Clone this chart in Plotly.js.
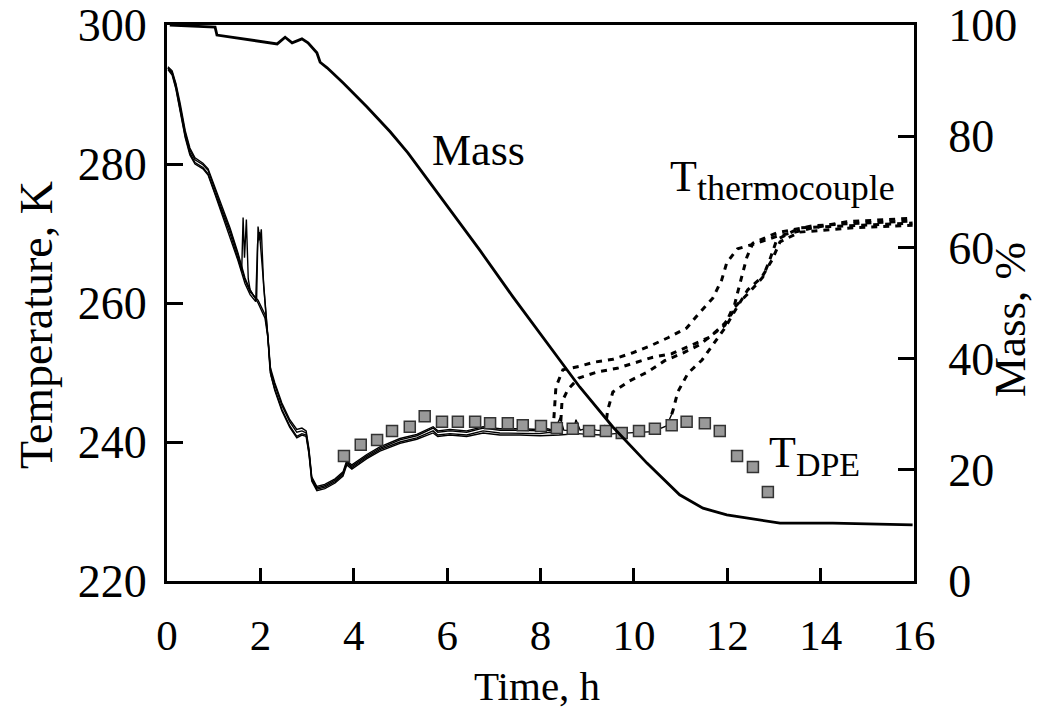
<!DOCTYPE html>
<html>
<head>
<meta charset="utf-8">
<script src="https://cdn.plot.ly/plotly-3.0.1.min.js"></script>
<style>html,body{margin:0;padding:0;background:#fff;}#chart{width:1037px;height:712px;}</style>
</head>
<body>
<div id="chart"></div>
<script>
// ---- Mass (%), right axis ----
var massTime = [0.06,1.03,1.07,2.36,2.53,2.68,2.89,3.02,3.21,3.28,3.43,3.77,4.28,4.78,5.16,6.70,7.41,8.14,8.84,9.55,10.28,10.98,11.48,11.99,12.48,13.13,14.26,15.97];
var massValue = [100,99.6,98.2,96.6,97.8,96.8,97.5,96.8,95.0,93.3,92.3,89.6,85.3,80.8,77.0,59.5,51.1,42.8,34.9,27.7,21.2,15.5,13.1,11.9,11.3,10.4,10.4,10.1];

// ---- Run A (solid, then thermocouple dashed) ----
var runATime = [0.02,0.11,0.19,0.28,0.39,0.49,0.60,0.77,0.88,1.03,1.18,1.35,1.52,1.67,1.78,1.95,2.10,2.16,2.21,2.31,2.46,2.63,2.78,2.89,2.98,3.04,3.10,3.21,3.38,3.60,3.77,3.85,3.96,4.28,4.56,4.99,5.35,5.70,5.80,6.06,6.42,6.77,7.13,7.56,7.99,8.15,8.27];
var runATemp = [293.8,293.2,291.4,288.5,284.5,282.0,280.6,279.9,279.1,276.3,273.4,270.5,266.9,263.3,261.6,260.4,258.3,255.4,250.4,248.2,245.3,242.9,241.4,241.6,241.3,238.8,234.8,233.4,233.7,234.5,235.5,237.1,236.5,238.0,239.1,240.3,240.9,242.0,241.4,241.6,241.4,242.0,241.7,241.7,241.6,241.9,241.7];
var runATcTime = [8.27,8.33,8.48,8.84,9.16,9.55,9.96,10.34,10.73,11.13,11.37,11.69,11.88,11.99,12.22,12.63,13.06,13.83,14.56,15.27,15.97];
var runATcTemp = [241.7,247.9,250.4,250.9,251.5,251.9,252.8,253.8,255.0,256.4,258.3,260.7,263.3,265.8,267.8,268.6,269.6,270.8,271.7,271.9,272.2];

// ---- Run B ----
var runBTime = [0.02,0.11,0.19,0.28,0.39,0.49,0.60,0.77,0.88,1.03,1.18,1.35,1.52,1.60,1.63,1.66,1.70,1.74,1.78,1.95,2.10,2.16,2.21,2.31,2.46,2.63,2.78,2.89,2.98,3.04,3.10,3.21,3.38,3.60,3.77,3.85,3.96,4.28,4.56,4.99,5.35,5.70,5.80,6.06,6.42,6.77,7.13,7.56,7.99,8.20,8.42];
var runBTemp = [293.8,293.0,291.0,288.0,284.0,281.6,280.2,279.5,278.6,275.8,273.0,270.0,266.4,264.6,272.3,266.5,272.0,263.5,261.9,260.0,257.8,255.0,250.0,247.6,244.7,242.3,240.8,241.2,241.0,238.5,234.6,233.2,233.5,234.3,235.3,236.9,236.3,237.8,238.9,240.0,240.6,241.6,241.0,241.2,241.0,241.6,241.3,241.3,241.2,241.4,241.3];
var runBTcTime = [8.42,8.46,8.59,8.82,9.23,9.64,10.02,10.41,10.81,11.24,11.63,11.95,12.12,12.21,12.31,12.42,12.55,13.06,13.83,14.56,15.97];
var runBTcTemp = [241.3,245.8,247.6,249.2,250.1,250.6,251.4,252.2,252.7,254.0,255.1,257.1,258.7,261.2,263.7,266.6,268.6,270.1,271.1,271.4,271.8];

// ---- Run C ----
var runCTime = [0.02,0.11,0.19,0.28,0.39,0.49,0.60,0.77,0.88,1.03,1.18,1.35,1.52,1.67,1.78,1.86,1.92,1.95,1.99,2.02,2.07,2.12,2.16,2.21,2.31,2.46,2.63,2.78,2.89,2.98,3.04,3.10,3.21,3.38,3.60,3.77,3.85,3.96,4.28,4.56,4.99,5.35,5.70,5.80,6.06,6.42,6.77,7.13,7.56,7.99,8.30,8.42,8.50,8.70,8.76,8.85,9.00,9.20,9.38];
var runCTemp = [294.0,293.4,291.6,288.8,284.8,282.3,280.9,280.1,279.3,276.6,273.7,270.8,267.2,263.6,261.9,261.0,260.6,271.0,269.0,270.6,262.5,258.6,255.8,250.8,248.5,245.6,243.2,241.8,242.0,241.6,239.0,235.0,233.6,233.9,234.7,235.7,237.3,236.7,238.2,239.3,240.5,241.1,242.2,241.6,241.8,241.6,242.2,241.9,241.9,241.8,241.6,243.5,241.7,241.6,243.2,241.7,242.0,241.7,241.6];
var runCTcTime = [9.38,9.44,9.55,9.91,10.30,10.66,11.05,11.41,11.67,11.95,12.10,12.48,12.76,12.91,13.06,13.55,14.56,15.97];
var runCTcTemp = [241.6,244.6,247.2,248.8,250.1,251.7,252.8,254.0,255.4,256.8,259.0,261.6,263.7,266.2,269.1,270.8,271.1,271.5];

// ---- Run D ----
var runDTime = [0.02,0.11,0.19,0.28,0.39,0.49,0.60,0.77,0.88,1.03,1.18,1.35,1.52,1.67,1.78,1.90,1.94,1.98,2.03,2.08,2.13,2.18,2.23,2.31,2.46,2.63,2.78,2.89,2.98,3.04,3.10,3.21,3.38,3.60,3.77,3.85,3.96,4.28,4.56,4.99,5.35,5.70,5.80,6.06,6.42,6.77,7.13,7.56,7.99,8.40,8.80,9.00,9.30,9.60,10.00,10.40,10.70,10.81];
var runDTemp = [293.6,292.8,290.8,287.8,283.8,281.3,280.0,279.3,278.4,275.6,272.7,269.7,266.1,262.8,261.2,260.2,268.5,270.2,266.0,261.5,257.5,253.0,249.5,247.4,244.5,242.1,240.6,241.0,240.8,238.3,234.4,233.0,233.3,234.1,235.1,236.7,236.1,237.6,238.7,239.8,240.4,241.3,240.8,241.0,240.8,241.3,241.0,241.0,240.9,241.0,241.2,241.1,241.0,241.2,241.3,241.5,242.3,244.0];
var runDTcTime = [10.81,10.84,10.94,11.16,11.46,11.69,11.95,12.21,12.44,12.74,12.96,13.13,13.55,14.63,15.97];
var runDTcTemp = [244.0,244.6,247.2,249.9,251.8,254.0,256.4,259.4,261.9,263.7,266.2,268.8,270.2,270.8,271.2];

// ---- T_DPE squares ----
var dpeTime = [3.79,4.15,4.50,4.82,5.20,5.52,5.89,6.23,6.60,6.92,7.30,7.62,8.01,8.35,8.69,9.04,9.40,9.74,10.11,10.45,10.81,11.13,11.52,11.84,12.21,12.55,12.87];
var dpeTemp = [238.0,239.6,240.3,241.6,242.2,243.7,242.9,242.9,242.9,242.7,242.7,242.4,242.3,242.0,241.9,241.6,241.6,241.3,241.6,241.9,242.4,242.9,242.7,241.6,238.0,236.4,232.8];

var xTicks = [0,2,4,6,8,10,12,14,16];
var tempTicks = [220,240,260,280,300];
var massTicks = [0,20,40,60,80,100];

var FONT = 'Liberation Serif, Times New Roman, serif';
var solid = {color:'#000', width:1.4};
var dashed = {color:'#000', width:3, dash:'6px,6px'};

var traces = [];
[[runATime,runATemp],[runBTime,runBTemp],[runCTime,runCTemp],[runDTime,runDTemp]].forEach(function(r){
  traces.push({x:r[0], y:r[1], type:'scatter', mode:'lines', line:solid, hoverinfo:'skip'});
});
[[runATcTime,runATcTemp],[runBTcTime,runBTcTemp],[runCTcTime,runCTcTemp],[runDTcTime,runDTcTemp]].forEach(function(r){
  traces.push({x:r[0], y:r[1], type:'scatter', mode:'lines', line:dashed, hoverinfo:'skip'});
});
traces.push({x:massTime, y:massValue, yaxis:'y2', type:'scatter', mode:'lines', line:{color:'#000', width:2.8}});
traces.push({x:dpeTime, y:dpeTemp, type:'scatter', mode:'markers', marker:{symbol:'square', size:11, color:'#999999', line:{color:'#333', width:1.5}}});

var layout = {
  width:1037, height:712,
  margin:{l:167, r:123, t:25, b:131},
  paper_bgcolor:'#fff', plot_bgcolor:'#fff',
  showlegend:false,
  font:{family:FONT, size:44, color:'#000'},
  xaxis:{range:[0,16], tickvals:xTicks, ticktext:xTicks.map(String), ticks:'inside', ticklen:13, tickwidth:3, tickcolor:'#000',
         showline:true, linewidth:3, linecolor:'#000', mirror:true, showgrid:false, zeroline:false,
         tickfont:{family:FONT, size:43}, ticklabelstandoff:14},
  yaxis:{range:[220,300], tickvals:tempTicks, ticktext:tempTicks.map(String), ticks:'inside', ticklen:16, tickwidth:3, tickcolor:'#000',
         showline:true, linewidth:3, linecolor:'#000', showgrid:false, zeroline:false,
         tickfont:{family:FONT, size:46}, ticklabelstandoff:8},
  yaxis2:{range:[0,100], overlaying:'y', side:'right', tickvals:massTicks, ticktext:massTicks.map(String), ticks:'inside', ticklen:16, tickwidth:3, tickcolor:'#000',
         showline:true, linewidth:3, linecolor:'#000', showgrid:false, zeroline:false,
         tickfont:{family:FONT, size:46}, ticklabelstandoff:22},
  annotations:[
    {text:'Time, h', xref:'paper', yref:'paper', x:(537-167)/747, y:(581-686)/556, xanchor:'center', yanchor:'middle', showarrow:false, font:{family:FONT, size:41}},
    {text:'Temperature, K', xref:'paper', yref:'paper', x:(36-167)/747, y:(581-325)/556, xanchor:'center', yanchor:'middle', textangle:-90, showarrow:false, font:{family:FONT, size:46}},
    {text:'Mass, %', xref:'paper', yref:'paper', x:(1010-167)/747, y:(581-320)/556, xanchor:'center', yanchor:'middle', textangle:-90, showarrow:false, font:{family:FONT, size:45}},
    {text:'Mass', x:5.63, y:282.0, xanchor:'left', yanchor:'middle', showarrow:false, font:{family:FONT, size:44}},
    {text:'T<sub><span style="font-size:36px">thermocouple</span></sub>', x:10.73, y:277.7, xanchor:'left', yanchor:'middle', showarrow:false, font:{family:FONT, size:44}},
    {text:'T<sub><span style="font-size:34px">DPE</span></sub>', x:12.85, y:238.1, xanchor:'left', yanchor:'middle', showarrow:false, font:{family:FONT, size:44}}
  ]
};
Plotly.newPlot('chart', traces, layout, {staticPlot:true, displayModeBar:false});
</script>
</body>
</html>
